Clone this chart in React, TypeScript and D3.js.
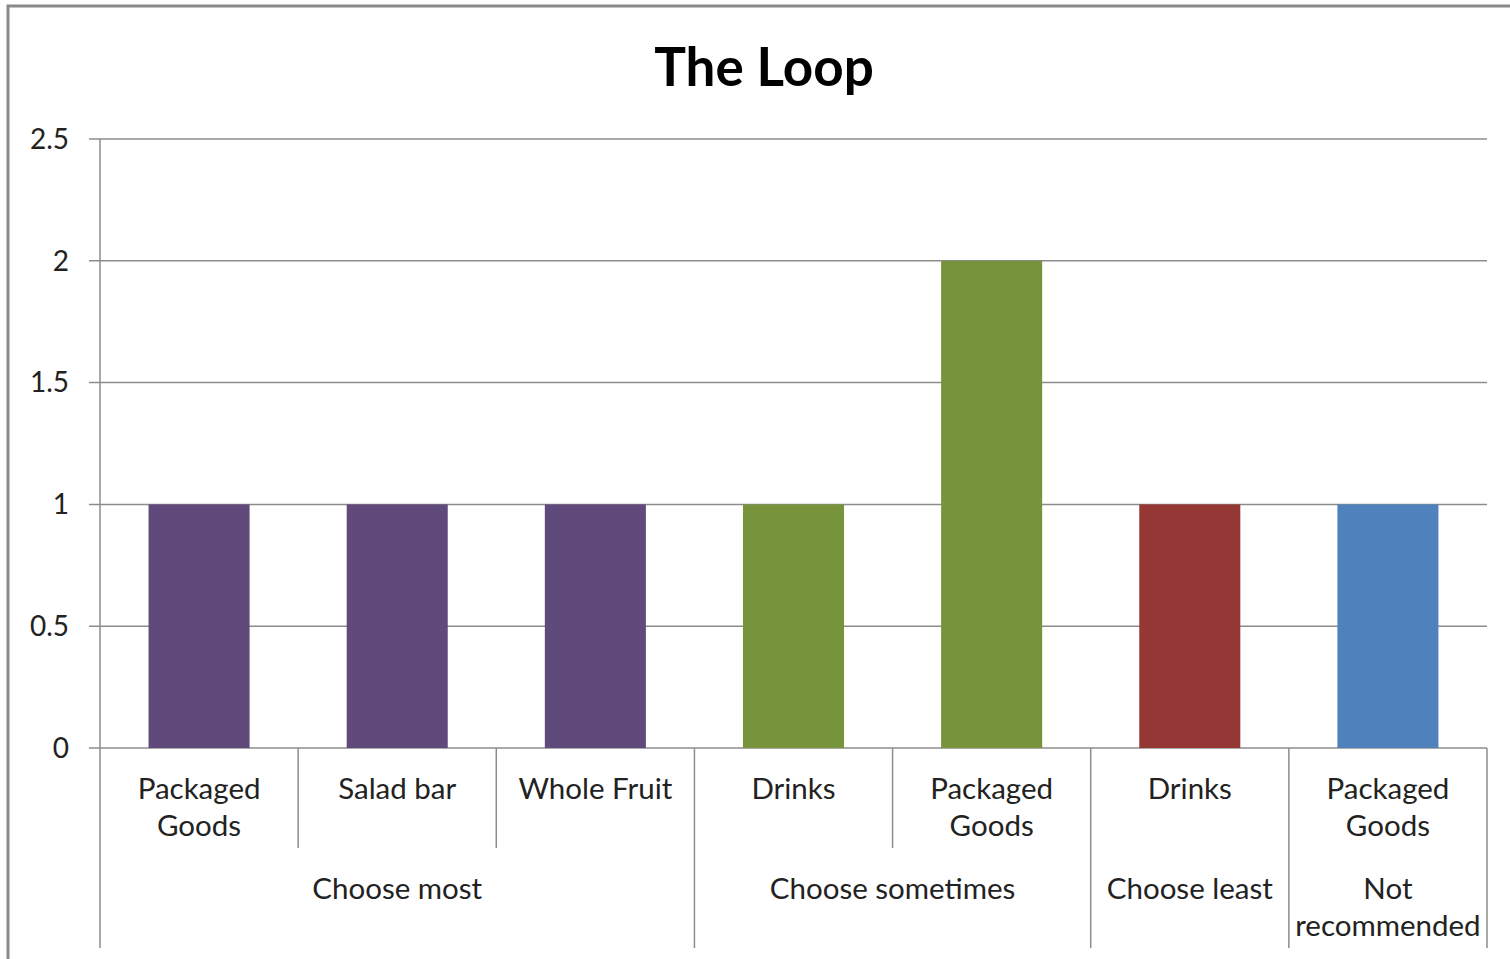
import React from "react";
import * as d3 from "d3";

const title = "The Loop";
const items = [
  ["Packaged", "Goods"],
  ["Salad bar"],
  ["Whole Fruit"],
  ["Drinks"],
  ["Packaged", "Goods"],
  ["Drinks"],
  ["Packaged", "Goods"],
];
const values = [1, 1, 1, 1, 2, 1, 1];
const groupOfItem = [0, 0, 0, 1, 1, 2, 3];
const groups = [["Choose most"], ["Choose sometimes"], ["Choose least"], ["Not", "recommended"]];
const groupColors = ["#604A7B", "#77933C", "#953735", "#4F81BD"];
const yTicks = [0, 0.5, 1, 1.5, 2, 2.5];
const tickLabels = ["0", "0.5", "1", "1.5", "2", "2.5"];

const W = 1510;
const H = 959;
const left = 100;
const right = 1487;
const top = 139;
const bottom = 748;
const font = "Lato, 'Open Sans', sans-serif";
const axisColor = "#8c8c8c";

export default function App() {
  const x = d3
    .scaleBand<number>()
    .domain(d3.range(items.length))
    .range([left, right])
    .padding(0);
  const y = d3.scaleLinear().domain([0, 2.5]).range([bottom, top]);
  const step = x.bandwidth();
  const barW = step * 0.51;

  // group spans from the item indices
  const spans = groups.map((_, g) => {
    const idx = groupOfItem
      .map((gg, i) => (gg === g ? i : -1))
      .filter((i) => i >= 0);
    const x0 = x(idx[0])!;
    const x1 = x(idx[idx.length - 1])! + step;
    return { x0, x1 };
  });

  return (
    <svg
      width={W}
      height={H}
      style={{ position: "absolute", left: 0, top: 0, background: "#fff" }}
    >
      <rect x={8} y={6} width={W + 20} height={H + 20} fill="#fff" stroke="#8a8a8a" strokeWidth={3} />
      <text
        x={764}
        y={86}
        textAnchor="middle"
        fontFamily={font}
        fontWeight={700}
        fontSize={53}
        fill="#000"
      >
        {title}
      </text>

      {yTicks.map((t, i) => (
        <g key={t}>
          <line x1={89} x2={right} y1={y(t)} y2={y(t)} stroke={axisColor} strokeWidth={1.5} />
          <text
            x={69}
            y={y(t)}
            dy="0.35em"
            textAnchor="end"
            fontFamily={font}
            fontSize={28}
            fill="#222"
          >
            {tickLabels[i]}
          </text>
        </g>
      ))}
      <line x1={left} x2={left} y1={top} y2={bottom} stroke={axisColor} strokeWidth={1.5} />

      {values.map((v, i) => (
        <rect
          key={i}
          x={x(i)! + (step - barW) / 2}
          y={y(v)}
          width={barW}
          height={y(0) - y(v)}
          fill={groupColors[groupOfItem[i]]}
        />
      ))}

      {/* category separators */}
      {d3.range(items.length + 1).map((i) => {
        const xx = i < items.length ? x(i)! : right;
        const isGroupEdge =
          i === 0 || i === items.length || groupOfItem[i] !== groupOfItem[i - 1];
        return (
          <line
            key={i}
            x1={xx}
            x2={xx}
            y1={bottom}
            y2={isGroupEdge ? 948 : 848}
            stroke={axisColor}
            strokeWidth={1.5}
          />
        );
      })}

      {items.map((lines, i) => (
        <text
          key={i}
          x={x(i)! + step / 2}
          y={799}
          textAnchor="middle"
          fontFamily={font}
          fontSize={29.5}
          fill="#222"
        >
          {lines.map((l, k) => (
            <tspan key={k} x={x(i)! + step / 2} dy={k === 0 ? 0 : 37}>
              {l}
            </tspan>
          ))}
        </text>
      ))}

      {groups.map((lines, g) => {
        const cx = (spans[g].x0 + spans[g].x1) / 2;
        return (
          <text
            key={g}
            x={cx}
            y={899}
            textAnchor="middle"
            fontFamily={font}
            fontSize={29.5}
            fill="#222"
          >
            {lines.map((l, k) => (
              <tspan key={k} x={cx} dy={k === 0 ? 0 : 37}>
                {l}
              </tspan>
            ))}
          </text>
        );
      })}
    </svg>
  );
}
